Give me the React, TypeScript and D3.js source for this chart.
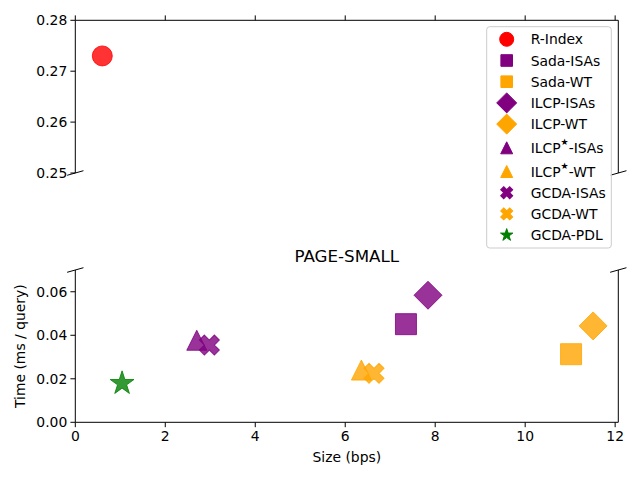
import * as d3 from "d3"

// data (two stacked panels with a broken y axis)
const seriesNames = [
  "R-Index",
  "Sada-ISAs",
  "Sada-WT",
  "ILCP-ISAs",
  "ILCP-WT",
  "ILCP⋆-ISAs",
  "ILCP⋆-WT",
  "GCDA-ISAs",
  "GCDA-WT",
  "GCDA-PDL",
]
const sizeBps = [0.6, 7.35, 11.02, 7.84, 11.51, 2.7, 6.36, 2.98, 6.64, 1.04]
const timeMs = [0.273, 0.0451, 0.0313, 0.0584, 0.0443, 0.0377, 0.024, 0.0355, 0.0225, 0.0179]
const markerKinds = ["circle", "square", "square", "diamond", "diamond", "triangle", "triangle", "x", "x", "star"]
const markerColors = ["red", "purple", "orange", "purple", "orange", "purple", "orange", "purple", "orange", "green"]

const xTicks = [0, 2, 4, 6, 8, 10, 12]
const topTicks = [0.25, 0.26, 0.27, 0.28]
const bottomTicks = [0, 0.02, 0.04, 0.06]

const W = 640
const H = 480
const font = "DejaVu Sans, sans-serif"

// marker path, r = half extent in px
function markerPath(kind: string, r: number) {
  if (kind === "circle") return d3.symbol(d3.symbolCircle, Math.PI * r * r)()
  if (kind === "square") return `M${-r},${-r}H${r}V${r}H${-r}Z`
  if (kind === "diamond") return `M0,${-r}L${r},0L0,${r}L${-r},0Z`
  if (kind === "triangle") return `M0,${-r}L${r},${r}L${-r},${r}Z`
  if (kind === "x") {
    const a = r / 2.83
    return d3.symbol(d3.symbolCross, 20 * a * a)()
  }
  // star
  const pts: string[] = []
  for (let i = 0; i < 10; i++) {
    const rr = i % 2 === 0 ? r : r * 0.382
    const ang = -Math.PI / 2 + (i * Math.PI) / 5
    pts.push(`${rr * Math.cos(ang)},${rr * Math.sin(ang)}`)
  }
  return "M" + pts.join("L") + "Z"
}

const plotSize: Record<string, number> = { circle: 10, square: 10.5, diamond: 14, triangle: 10, x: 10, star: 12.5 }
const legendSize: Record<string, number> = { circle: 7, square: 5.8, diamond: 10, triangle: 6, x: 6, star: 6.5 }

function Label({ text, x, y, size }: { text: string; x: number; y: number; size: number }) {
  const parts = text.split("⋆")
  if (parts.length === 1)
    return (
      <text x={x} y={y} fontSize={size} dominantBaseline="central">
        {text}
      </text>
    )
  return (
    <text x={x} y={y} fontSize={size} dominantBaseline="central">
      {parts[0]}
      <tspan fontSize={9} dy={-6}>
        ★
      </tspan>
      <tspan dy={6}>{parts[1]}</tspan>
    </text>
  )
}

export default function App() {
  const left = 75.3
  const right = 618.3
  const x = d3.scaleLinear().domain([0, 12.07]).range([left, right])
  const yTop = d3.scaleLinear().domain([0.25, 0.28]).range([173, 20.3])
  const yBot = d3.scaleLinear().domain([0, 0.07]).range([422.3, 270])

  const idx = d3.range(seriesNames.length)
  const d = 0.015
  const dx = d * (right - left)
  const dyTop = d * (173 - 20.3)
  const dyBot = d * (422.3 - 270)

  // legend rows: superscript rows get a bit more space above
  let cy = 39.3
  const legendY = idx.map((i) => {
    if (i > 0) cy += 21.2 + (seriesNames[i].includes("⋆") ? 2.5 : 0)
    return cy
  })

  return (
    <svg width={W} height={H} style={{ position: "absolute", left: 0, top: 0 }} fontFamily={font}>
      <rect width={W} height={H} fill="white" />

      {/* top panel */}
      <g stroke="black" strokeWidth={1}>
        <line x1={left} x2={right} y1={yTop(0.28)} y2={yTop(0.28)} />
        <line x1={left} x2={left} y1={yTop(0.28)} y2={yTop(0.25)} />
        <line x1={right} x2={right} y1={yTop(0.28)} y2={yTop(0.25)} />
        {xTicks.map((t) => (
          <line key={t} x1={x(t)} x2={x(t)} y1={yTop(0.28)} y2={yTop(0.28) - 4.9} />
        ))}
        {topTicks.map((t) => (
          <line key={t} x1={left - 4.9} x2={left} y1={yTop(t)} y2={yTop(t)} />
        ))}
        <line x1={left - dx} y1={173 + dyTop} x2={left + dx} y2={173 - dyTop} />
        <line x1={right - dx} y1={173 + dyTop} x2={right + dx} y2={173 - dyTop} />
      </g>
      {topTicks.map((t) => (
        <text key={t} x={left - 8} y={yTop(t)} fontSize={13.9} textAnchor="end" dominantBaseline="central">
          {d3.format(".2f")(t)}
        </text>
      ))}

      {/* bottom panel */}
      <g stroke="black" strokeWidth={1}>
        <line x1={left} x2={right} y1={yBot(0)} y2={yBot(0)} />
        <line x1={left} x2={left} y1={yBot(0)} y2={yBot(0.07)} />
        <line x1={right} x2={right} y1={yBot(0)} y2={yBot(0.07)} />
        {xTicks.map((t) => (
          <line key={t} x1={x(t)} x2={x(t)} y1={yBot(0)} y2={yBot(0) + 4.9} />
        ))}
        {bottomTicks.map((t) => (
          <line key={t} x1={left - 4.9} x2={left} y1={yBot(t)} y2={yBot(t)} />
        ))}
        <line x1={left - dx} y1={270 + dyBot} x2={left + dx} y2={270 - dyBot} />
        <line x1={right - dx} y1={270 + dyBot} x2={right + dx} y2={270 - dyBot} />
      </g>
      {bottomTicks.map((t) => (
        <text key={t} x={left - 8} y={yBot(t)} fontSize={13.9} textAnchor="end" dominantBaseline="central">
          {d3.format(".2f")(t)}
        </text>
      ))}
      {xTicks.map((t) => (
        <text key={t} x={x(t)} y={yBot(0) + 8} fontSize={13.9} textAnchor="middle" dominantBaseline="hanging">
          {t}
        </text>
      ))}

      {/* points */}
      {idx.map((i) => {
        const yy = timeMs[i] >= 0.25 ? yTop(timeMs[i]) : yBot(timeMs[i])
        const kind = markerKinds[i]
        return (
          <path
            key={i}
            d={markerPath(kind, plotSize[kind])!}
            transform={`translate(${x(sizeBps[i])},${yy})${kind === "x" ? " rotate(45)" : ""}`}
            fill={markerColors[i]}
            stroke={markerColors[i]}
            fillOpacity={0.8}
            strokeOpacity={0.8}
            strokeWidth={1}
          />
        )
      })}

      {/* titles */}
      <text x={(left + right) / 2} y={261.5} fontSize={16.7} textAnchor="middle">
        PAGE-SMALL
      </text>
      <text x={(left + right) / 2} y={462} fontSize={13.9} textAnchor="middle">
        Size (bps)
      </text>
      <text
        transform={`translate(25,${(270 + 422.3) / 2}) rotate(-90)`}
        fontSize={13.9}
        textAnchor="middle"
      >
        Time (ms / query)
      </text>

      {/* legend */}
      <rect x={486.7} y={26.7} width={124.6} height={221.3} rx={3} fill="white" fillOpacity={0.8} stroke="#cccccc" />
      {idx.map((i) => {
        const kind = markerKinds[i]
        return (
          <g key={i}>
            <path
              d={markerPath(kind, legendSize[kind])!}
              transform={`translate(506.7,${legendY[i]})${kind === "x" ? " rotate(45)" : ""}`}
              fill={markerColors[i]}
              stroke={markerColors[i]}
            />
            <Label text={seriesNames[i]} x={530.7} y={legendY[i]} size={13.9} />
          </g>
        )
      })}
    </svg>
  )
}
